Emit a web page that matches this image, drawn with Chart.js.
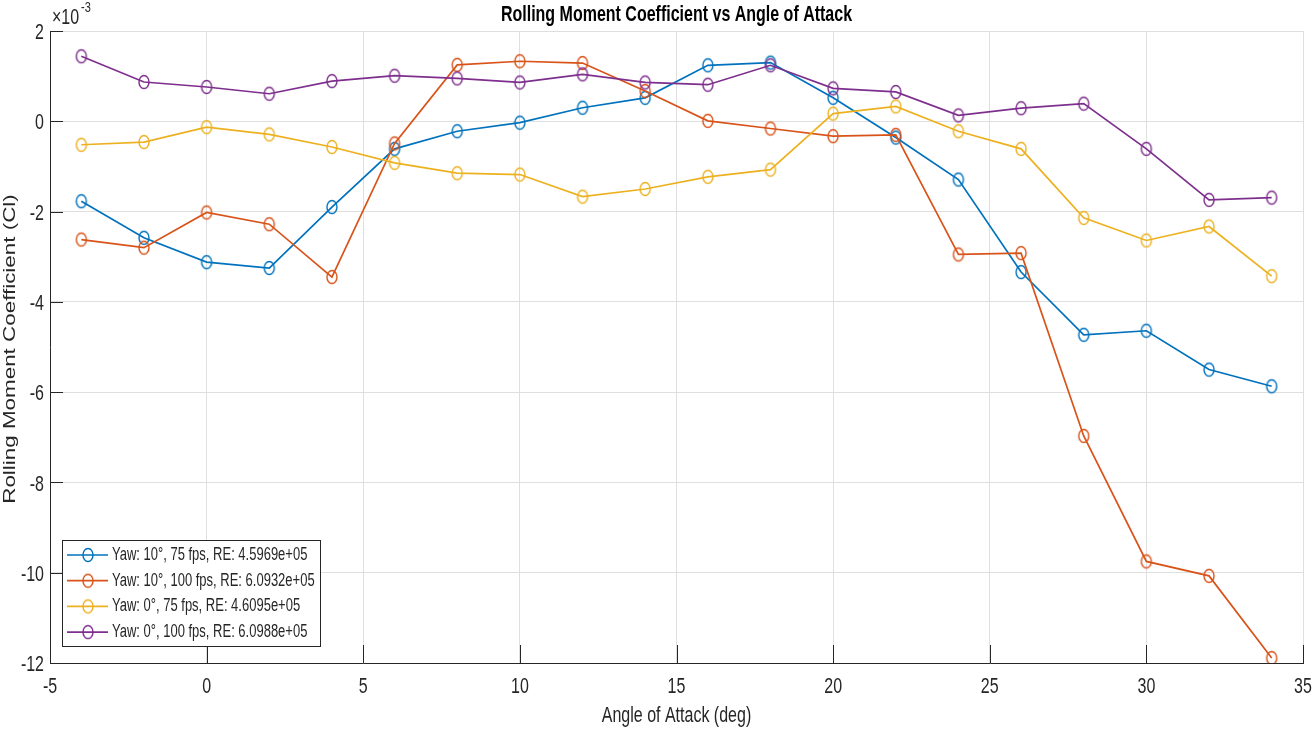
<!DOCTYPE html>
<html>
<head>
<meta charset="utf-8">
<script src="https://cdn.jsdelivr.net/npm/chart.js@4.4.1/dist/chart.umd.min.js"></script>
<style>
  body { margin: 0; background: #fff; }
  canvas { display: block; }
</style>
</head>
<body>
<canvas id="myChart" width="1314" height="732"></canvas>
<script>
// angle of attack (deg)
const angles = [-4, -2, 0, 2, 4, 6, 8, 10, 12, 14, 16, 18, 20, 22, 24, 26, 28, 30, 32, 34]

// rolling moment coefficient, in units of 1e-3
const yaw10fps75 = [-1.77, -2.58, -3.12, -3.25, -1.90, -0.61, -0.22, -0.03, 0.30, 0.52, 1.24, 1.30, 0.52, -0.36, -1.29, -3.34, -4.73, -4.64, -5.50, -5.87]
const yaw10fps100 = [-2.62, -2.80, -2.02, -2.28, -3.45, -0.49, 1.25, 1.33, 1.29, 0.67, 0.01, -0.16, -0.33, -0.30, -2.95, -2.92, -6.97, -9.75, -10.07, -11.89]
const yaw0fps75 = [-0.52, -0.46, -0.13, -0.29, -0.57, -0.92, -1.15, -1.18, -1.67, -1.50, -1.23, -1.07, 0.17, 0.33, -0.22, -0.61, -2.14, -2.64, -2.33, -3.43]
const yaw0fps100 = [1.44, 0.87, 0.76, 0.61, 0.89, 1.01, 0.95, 0.86, 1.04, 0.86, 0.81, 1.24, 0.73, 0.65, 0.13, 0.29, 0.39, -0.61, -1.74, -1.69]

const seriesLabels = [
    'Yaw: 10°, 75 fps, RE: 4.5969e+05',
    'Yaw: 10°, 100 fps, RE: 6.0932e+05',
    'Yaw: 0°, 75 fps, RE: 4.6095e+05',
    'Yaw: 0°, 100 fps, RE: 6.0988e+05'
]
const seriesColors = ['#0072BD', '#D95319', '#EDB120', '#7E2F8E']
const seriesValues = [yaw10fps75, yaw10fps100, yaw0fps75, yaw0fps100]

const xTickValues = [-5, 0, 5, 10, 15, 20, 25, 30, 35]
const yTickValues = [-12, -10, -8, -6, -4, -2, 0, 2]

const FONT = '"Liberation Sans", Arial, sans-serif'
const TEXT = '#262626'
// the original figure was stretched vertically, text included
const STRETCH = 1.4

// open elliptical marker (the circles are taller than wide in the picture)
function makeMarker(color) {
    const c = document.createElement('canvas')
    c.width = 14
    c.height = 18
    const g = c.getContext('2d')
    g.strokeStyle = color
    g.lineWidth = 1.4
    g.beginPath()
    g.ellipse(7, 9, 5, 6.5, 0, 0, Math.PI * 2)
    g.stroke()
    return c
}
const markers = seriesColors.map(makeMarker)

const dataSets = seriesValues.map((vals, i) => ({
    label: seriesLabels[i],
    data: vals.map((v, j) => ({ x: angles[j], y: v })),
    borderColor: seriesColors[i],
    backgroundColor: 'rgba(0,0,0,0)',
    borderWidth: 1.7,
    pointStyle: markers[i],
    pointRadius: 6,
    tension: 0,
    // later series drawn on top, like MATLAB
    order: seriesValues.length - i
}))

function stretchedText(ctx, text, x, y, align) {
    ctx.save()
    ctx.translate(x, y)
    ctx.scale(1, STRETCH)
    ctx.textAlign = align
    ctx.fillText(text, 0, 0)
    ctx.restore()
}

// all texts, inner ticks and the legend box
const decorations = {
    id: 'decorations',
    afterDraw(chart) {
        const ctx = chart.ctx
        const area = chart.chartArea
        const xs = chart.scales.x
        const ys = chart.scales.y
        ctx.save()

        // inner tick marks
        ctx.strokeStyle = TEXT
        ctx.lineWidth = 1
        ctx.beginPath()
        for (const v of yTickValues) {
            const py = Math.round(ys.getPixelForValue(v)) + 0.5
            ctx.moveTo(area.left, py)
            ctx.lineTo(area.left + 13, py)
        }
        for (const v of xTickValues) {
            const px = Math.round(xs.getPixelForValue(v)) + 0.5
            ctx.moveTo(px, area.bottom)
            ctx.lineTo(px, area.bottom - 18)
        }
        ctx.stroke()

        // tick labels
        ctx.fillStyle = TEXT
        ctx.textBaseline = 'middle'
        ctx.font = '16px ' + FONT
        for (const v of xTickValues) {
            stretchedText(ctx, String(v), xs.getPixelForValue(v), 687, 'center')
        }
        for (const v of yTickValues) {
            stretchedText(ctx, String(v), area.left - 6, ys.getPixelForValue(v) + 2, 'right')
        }

        // axis titles
        ctx.font = '16px ' + FONT
        stretchedText(ctx, 'Angle of Attack (deg)', (area.left + area.right) / 2, 716, 'center')
        ctx.save()
        ctx.translate(11, (area.top + area.bottom) / 2 + 2)
        ctx.scale(1, STRETCH)
        ctx.rotate(-Math.PI / 2)
        ctx.textAlign = 'center'
        ctx.fillText('Rolling Moment Coefficient (Cl)', 0, 0)
        ctx.restore()

        // title
        ctx.fillStyle = '#000'
        ctx.font = 'bold 16px ' + FONT
        stretchedText(ctx, 'Rolling Moment Coefficient vs Angle of Attack', (area.left + area.right) / 2, 15, 'center')

        // exponent
        ctx.fillStyle = TEXT
        ctx.font = '16px ' + FONT
        stretchedText(ctx, '\u00d710', 52, 18, 'left')
        ctx.font = '11px ' + FONT
        stretchedText(ctx, '-3', 81, 8, 'left')

        // legend
        const bx = 62, by = 540, bw = 258, bh = 106
        ctx.fillStyle = '#fff'
        ctx.fillRect(bx, by, bw, bh)
        ctx.strokeStyle = TEXT
        ctx.lineWidth = 1
        ctx.strokeRect(bx + 0.5, by + 0.5, bw, bh)
        ctx.font = '13px ' + FONT
        seriesLabels.forEach((label, i) => {
            const cy = 555 + i * 25.7
            ctx.strokeStyle = seriesColors[i]
            ctx.lineWidth = 1.7
            ctx.beginPath()
            ctx.moveTo(67, cy)
            ctx.lineTo(108, cy)
            ctx.stroke()
            ctx.drawImage(markers[i], 88 - 7, cy - 9)
            ctx.fillStyle = TEXT
            stretchedText(ctx, label, 112, cy, 'left')
        })
        ctx.restore()
    }
}

const ctx = document.getElementById('myChart')
new Chart(ctx, {
    type: 'line',
    data: { datasets: dataSets },
    plugins: [decorations],
    options: {
        responsive: false,
        animation: false,
        layout: { padding: { top: 31, right: 11, left: 0, bottom: 0 } },
        scales: {
            x: {
                type: 'linear',
                min: -5,
                max: 35,
                ticks: { stepSize: 5, display: false },
                grid: { color: '#dfdfdf', drawTicks: false },
                border: { color: TEXT, width: 1 },
                afterFit(scale) { scale.height = 69 }
            },
            y: {
                min: -12,
                max: 2,
                ticks: { stepSize: 2, display: false },
                grid: { color: '#dfdfdf', drawTicks: false },
                border: { color: TEXT, width: 1 },
                afterFit(scale) { scale.width = 50 }
            }
        },
        plugins: {
            legend: { display: false },
            tooltip: { enabled: false }
        }
    }
})
</script>
</body>
</html>
